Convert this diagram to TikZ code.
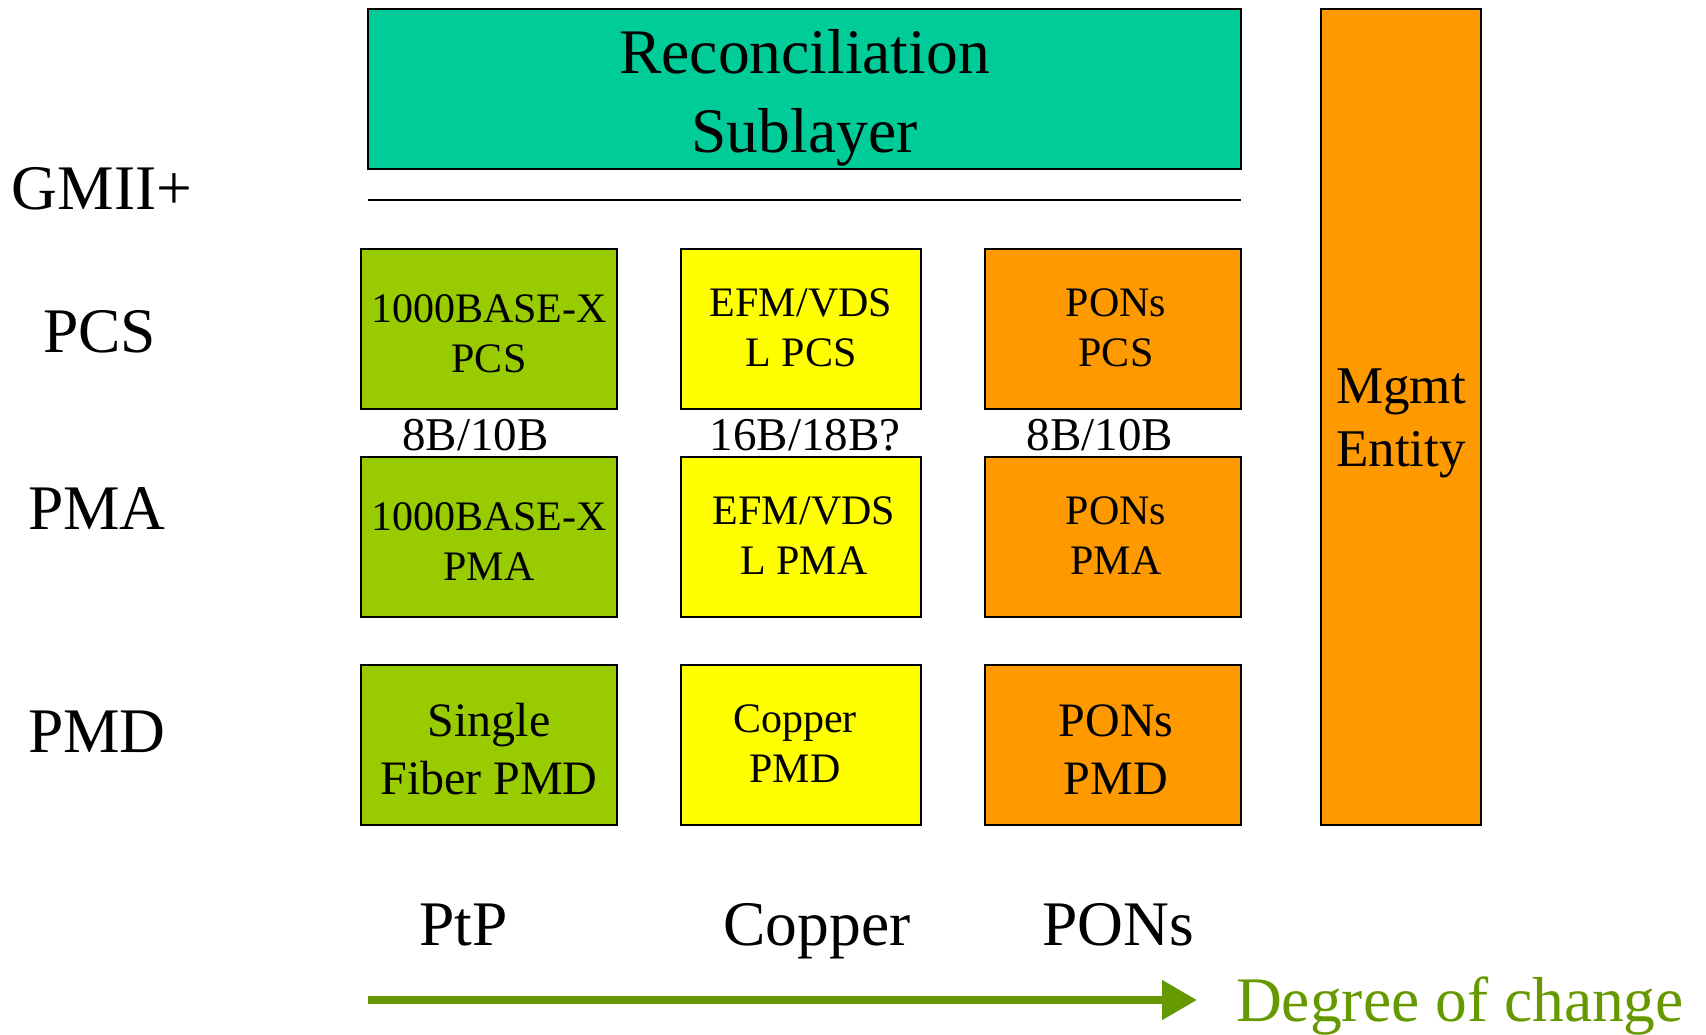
\documentclass[tikz,border=0pt]{standalone}
\usepackage{fontspec}
\setmainfont{Liberation Serif}
\usetikzlibrary{arrows.meta}
\definecolor{rsteal}{HTML}{00CC99}
\definecolor{ptpgreen}{HTML}{99CC00}
\definecolor{cuyellow}{HTML}{FFFF00}
\definecolor{ponorange}{HTML}{FF9900}
\definecolor{changegreen}{HTML}{669900}
\tikzset{
  layerbox/.style={draw=black, line width=2pt, rectangle, inner sep=0pt},
  ptpbox/.style={layerbox, fill=ptpgreen, minimum width=256pt, minimum height=160pt},
  cubox/.style={layerbox, fill=cuyellow, minimum width=240pt, minimum height=160pt},
  ponbox/.style={layerbox, fill=ponorange, minimum width=256pt, minimum height=160pt},
  boxtext/.style={inner sep=0pt, align=center},
  bigtext/.style={inner sep=0pt, anchor=base, font=\fontsize{63.5}{76}\selectfont},
  codetext/.style={inner sep=0pt, anchor=base, font=\fontsize{47}{56}\selectfont},
  boxfont/.style={boxtext, font=\fontsize{42}{50}\selectfont},
  pmdfont/.style={boxtext, font=\fontsize{48}{58}\selectfont},
}
\begin{document}
\begin{tikzpicture}[x=1pt,y=-1pt]
\useasboundingbox (0,0) rectangle (1706,1035);
% top
\node[layerbox, fill=rsteal, minimum width=873pt, minimum height=160pt] (rs) at (804.5,89) {};
\node[boxtext, font=\fontsize{63.5}{79}\selectfont] (rsT) at ([yshift=-9pt]rs.center) {Reconciliation\\Sublayer};
\node[layerbox, fill=ponorange, minimum width=160pt, minimum height=816pt] (mg) at (1401,417) {};
\node[boxtext, font=\fontsize{53}{63}\selectfont] (mgT) at ([yshift=-6.4pt]mg.center) {Mgmt\\Entity};
\coordinate (gl) at (368,200);
\coordinate (gr) at (1241,200);
\draw[line width=2pt] (gl) -- (gr);
% PCS row
\node[ptpbox] (ptppcs) at (489,329) {};
\node[cubox] (cupcs) at (801,329) {};
\node[ponbox] (ponpcs) at (1113,329) {};
\node[boxfont] (ptppcsT) at ([yshift=-4.5pt]ptppcs.center) {1000BASE-X\\PCS};
\node[boxfont] (cupcsT) at ([yshift=1.4pt]cupcs.center) {EFM/VDS\\L PCS};
\node[boxfont] (ponpcsT) at ([xshift=3pt,yshift=1.4pt]ponpcs.center) {PONs\\PCS};
% PMA row
\node[ptpbox] (ptppma) at (489,537) {};
\node[cubox] (cupma) at (801,537) {};
\node[ponbox] (ponpma) at (1113,537) {};
\node[boxfont] (ptppmaT) at ([yshift=-4.5pt]ptppma.center) {1000BASE-X\\PMA};
\node[boxfont] (cupmaT) at ([xshift=3pt,yshift=1.4pt]cupma.center) {EFM/VDS\\L PMA};
\node[boxfont] (ponpmaT) at ([xshift=3pt,yshift=1.4pt]ponpma.center) {PONs\\PMA};
% PMD row
\node[ptpbox] (ptppmd) at (489,745) {};
\node[cubox] (cupmd) at (801,745) {};
\node[ponbox] (ponpmd) at (1113,745) {};
\node[pmdfont] (ptppmdT) at ([yshift=-4.5pt]ptppmd.center) {Single\\Fiber PMD};
\node[boxfont] (cupmdT) at ([xshift=-6pt,yshift=1.2pt]cupmd.center) {Copper\\PMD};
\node[pmdfont] (ponpmdT) at ([xshift=3pt,yshift=-4.5pt]ponpmd.center) {PONs\\PMD};
% codes
\node[codetext] (c1) at (475.5,450) {8B/10B};
\node[codetext] (c2) at (805,450) {16B/18B?};
\node[codetext] (c3) at (1100,450) {8B/10B};
% left labels
\node[bigtext] (lgmii) at (102,210) {GMII+};
\node[bigtext] (lpcs) at (99.5,352) {PCS};
\node[bigtext] (lpma) at (97,529) {PMA};
\node[bigtext] (lpmd) at (97,752) {PMD};
% bottom labels
\node[bigtext] (bptp) at (463.5,945) {PtP};
\node[bigtext] (bcu) at (817,945) {Copper};
\node[bigtext] (bpon) at (1118,945) {PONs};
% arrow
\coordinate (as) at (368,1000);
\coordinate (ae) at (1197,1000);
\draw[changegreen, line width=8pt, -{Triangle[length=35pt, width=38pt]}] (as) -- (ae);
\node[bigtext, text=changegreen] (doc) at (1460,1021) {Degree of change};
\end{tikzpicture}
\end{document}
